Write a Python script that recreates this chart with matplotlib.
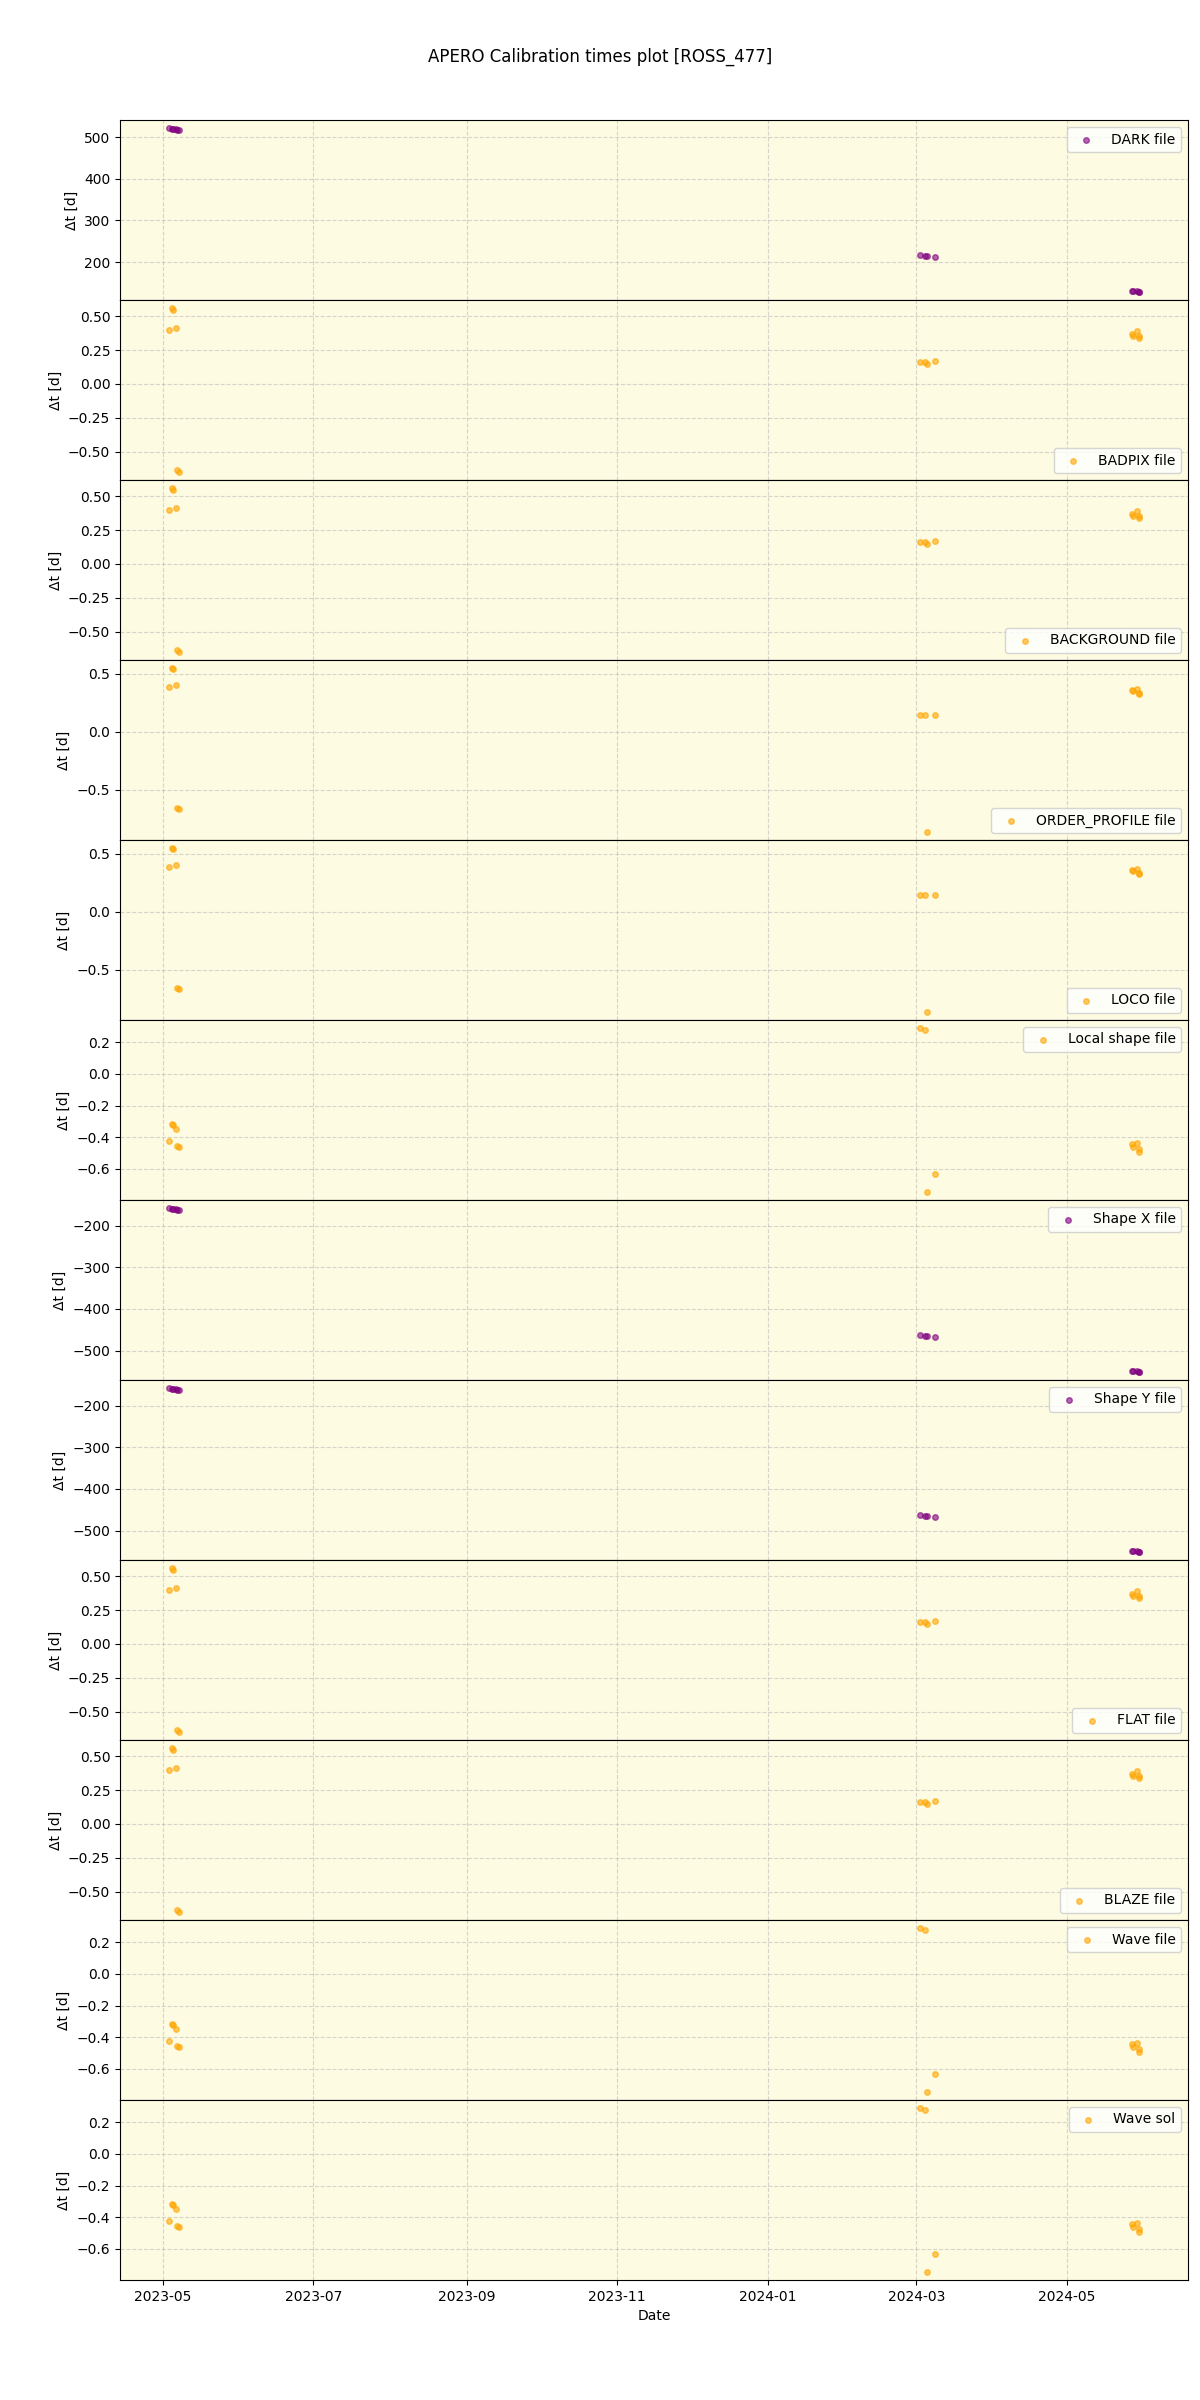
import numpy as np
import pandas as pd
import matplotlib
matplotlib.use("Agg")
import matplotlib.pyplot as plt
import matplotlib.dates as mdates


# observation dates (same for every calibration type)
obs_dates = [
    "2023-05-03 10:00", "2023-05-05 00:00", "2023-05-05 02:00", "2023-05-06 07:00",
    "2023-05-07 00:00", "2023-05-07 12:00",
    "2024-03-02 12:00", "2024-03-04 12:00", "2024-03-05 07:00", "2024-03-08 14:00",
    "2024-05-27 10:00", "2024-05-27 12:00", "2024-05-29 10:00", "2024-05-30 05:00",
    "2024-05-30 07:00",
]

labels = [
    "DARK file", "BADPIX file", "BACKGROUND file", "ORDER_PROFILE file", "LOCO file",
    "Local shape file", "Shape X file", "Shape Y file", "FLAT file", "BLAZE file",
    "Wave file", "Wave sol",
]

dark_dt = [521.4, 519.8, 519.7, 518.5, 517.8, 517.3,
           217.3, 215.3, 214.5, 211.2,
           131.4, 131.3, 129.4, 128.6, 128.5]
badpix_dt = [0.397, 0.559, 0.546, 0.412, -0.640, -0.650,
             0.164, 0.164, 0.147, 0.169,
             0.368, 0.353, 0.390, 0.351, 0.335]
background_dt = [0.397, 0.559, 0.546, 0.412, -0.640, -0.650,
                 0.164, 0.164, 0.147, 0.169,
                 0.368, 0.353, 0.390, 0.351, 0.335]
order_profile_dt = [0.390, 0.550, 0.540, 0.403, -0.660, -0.665,
                    0.150, 0.150, -0.862, 0.150,
                    0.360, 0.350, 0.372, 0.340, 0.327]
loco_dt = [0.390, 0.550, 0.540, 0.403, -0.660, -0.665,
           0.150, 0.150, -0.862, 0.150,
           0.360, 0.350, 0.372, 0.340, 0.327]
local_shape_dt = [-0.423, -0.318, -0.325, -0.347, -0.455, -0.461,
                  0.290, 0.279, -0.746, -0.635,
                  -0.446, -0.464, -0.434, -0.473, -0.493]
shape_x_dt = [-158.0, -159.6, -159.7, -160.9, -161.6, -162.1,
              -462.1, -464.1, -464.9, -468.2,
              -548.0, -548.1, -550.0, -550.8, -550.9]
shape_y_dt = [-158.0, -159.6, -159.7, -160.9, -161.6, -162.1,
              -462.1, -464.1, -464.9, -468.2,
              -548.0, -548.1, -550.0, -550.8, -550.9]
flat_dt = [0.397, 0.559, 0.546, 0.412, -0.640, -0.650,
           0.164, 0.164, 0.147, 0.169,
           0.368, 0.353, 0.390, 0.351, 0.335]
blaze_dt = [0.397, 0.559, 0.546, 0.412, -0.640, -0.650,
            0.164, 0.164, 0.147, 0.169,
            0.368, 0.353, 0.390, 0.351, 0.335]
wave_file_dt = [-0.423, -0.318, -0.325, -0.347, -0.455, -0.461,
                0.290, 0.279, -0.746, -0.635,
                -0.446, -0.464, -0.434, -0.473, -0.493]
wave_sol_dt = [-0.423, -0.318, -0.325, -0.347, -0.455, -0.461,
               0.290, 0.279, -0.746, -0.635,
               -0.446, -0.464, -0.434, -0.473, -0.493]

all_dt = [dark_dt, badpix_dt, background_dt, order_profile_dt, loco_dt,
          local_shape_dt, shape_x_dt, shape_y_dt, flat_dt, blaze_dt,
          wave_file_dt, wave_sol_dt]

legend_locs = ["upper right", "lower right", "lower right", "lower right",
               "lower right", "upper right", "upper right", "upper right",
               "lower right", "lower right", "upper right", "upper right"]


def main():
    dates = pd.to_datetime(obs_dates)
    fig, axes = plt.subplots(len(labels), 1, figsize=(12, 24), dpi=100, sharex=True)
    fig.subplots_adjust(left=0.1, right=0.99, top=0.95, bottom=0.05, hspace=0)
    fig.suptitle("APERO Calibration times plot [ROSS_477]")

    for ax, label, dt, loc in zip(axes, labels, all_dt, legend_locs):
        dt = np.asarray(dt)
        # large offsets drawn in purple, night calibrations in orange
        colour = "purple" if np.max(np.abs(dt)) > 2 else "orange"
        ax.set_facecolor("#fdfbe2")
        ax.scatter(dates, dt, s=16, color=colour, alpha=0.6, label=label)
        ax.grid(True, linestyle="--", alpha=0.5)
        ax.set_axisbelow(True)
        ax.set_ylabel("Δt [d]")
        ax.legend(loc=loc)

    axes[-1].xaxis.set_major_locator(mdates.MonthLocator(bymonth=[1, 3, 5, 7, 9, 11]))
    axes[-1].xaxis.set_major_formatter(mdates.DateFormatter("%Y-%m"))
    axes[-1].set_xlabel("Date")

    fig.savefig("out.png")


if __name__ == "__main__":
    main()
